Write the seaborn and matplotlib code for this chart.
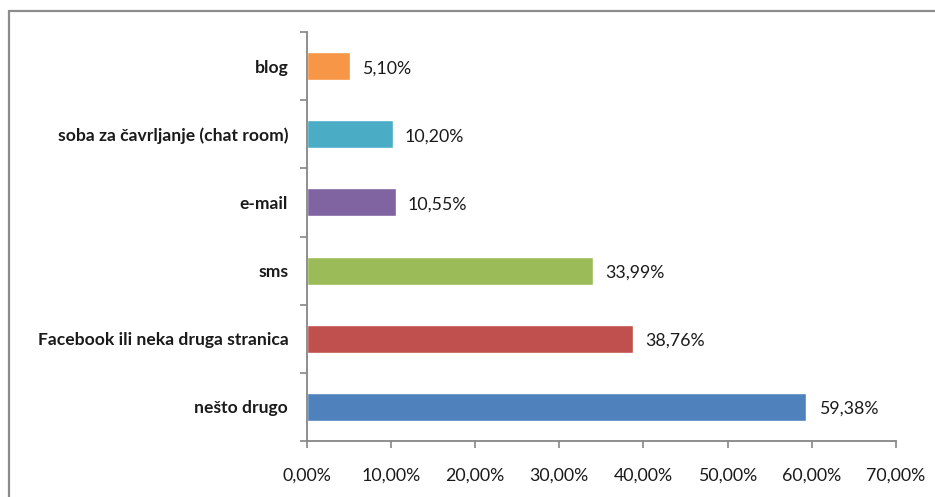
import matplotlib
matplotlib.use("Agg")
import matplotlib.pyplot as plt
import seaborn as sns
import pandas as pd
from matplotlib.ticker import FuncFormatter, FixedLocator
from matplotlib.patches import Rectangle

categories = ["blog", "soba za čavrljanje (chat room)", "e-mail", "sms",
              "Facebook ili neka druga stranica", "nešto drugo"]
values = [5.10, 10.20, 10.55, 33.99, 38.76, 59.38]
colors = ["#F79646", "#4BACC6", "#8064A2", "#9BBB59", "#C0504D", "#4F81BD"]
xticks = [0, 10, 20, 30, 40, 50, 60, 70]

sns.set_theme(style="white")
plt.rcParams["font.family"] = ["Lato", "DejaVu Sans"]

df = pd.DataFrame({"cat": categories, "val": values})

fig = plt.figure(figsize=(9.35, 4.97), dpi=100)
ax = fig.add_axes([307 / 935, 1 - 441 / 497, (895.7 - 307) / 935, (441 - 32) / 497])

sns.barplot(data=df, y="cat", x="val", hue="cat", palette=colors, order=categories,
            hue_order=categories, orient="h", width=0.41, legend=False, ax=ax,
            saturation=1)

ax.set_xlim(0, 70)
ax.set_ylim(len(categories) - 0.5, -0.5)
ax.xaxis.set_major_locator(FixedLocator(xticks))
ax.xaxis.set_major_formatter(FuncFormatter(lambda v, p: f"{v:.2f}".replace(".", ",") + "%"))
ax.set_xlabel("")
ax.set_ylabel("")

spine_c = "#868686"
for s in ["top", "right"]:
    ax.spines[s].set_visible(False)
for s in ["left", "bottom"]:
    ax.spines[s].set_color(spine_c)
    ax.spines[s].set_linewidth(1.3)

ax.tick_params(axis="x", which="major", direction="out", length=5, width=1.2,
               color=spine_c, labelsize=12.8, labelcolor="#1a1a1a", pad=14, bottom=True)
ax.tick_params(axis="y", which="major", length=0, labelsize=12.6, pad=13.5, left=False)
ax.set_yticks(range(len(categories)))
ax.set_yticklabels(categories, fontweight="bold", color="#1a1a1a")
ax.yaxis.set_minor_locator(FixedLocator([i - 0.5 for i in range(len(categories) + 1)]))
ax.tick_params(axis="y", which="minor", direction="out", length=5, width=1.2,
               color=spine_c, left=True)

for i, v in enumerate(values):
    ax.text(v + 1.45, i + 0.03, f"{v:.2f}".replace(".", ",") + "%", va="center", ha="left",
            fontsize=12.8, color="#1a1a1a")

fig.patches.append(Rectangle((8.5 / 935, -0.05), 1.2, 1 - 11 / 497 + 0.05,
                             transform=fig.transFigure, fill=False,
                             edgecolor="#8c8c8c", linewidth=1.6))

fig.savefig("out.png", dpi=100)
